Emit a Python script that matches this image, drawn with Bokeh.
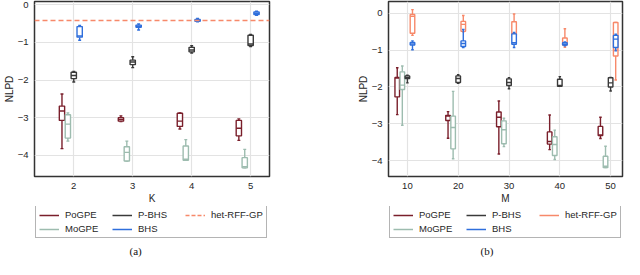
from bokeh.plotting import figure
from bokeh.layouts import row, column
from bokeh.models import (ColumnDataSource, Legend, LegendItem, FixedTicker, Span, Label, Range1d)
from bokeh.embed import file_html
from bokeh.resources import INLINE

# ---------------- data ----------------
METHODS = ["PoGPE", "MoGPE", "P-BHS", "BHS", "het-RFF-GP"]
COLORS = {"PoGPE": "#7a1f2b", "MoGPE": "#9dbcaf", "P-BHS": "#3a3a3a",
          "BHS": "#2f6fdc", "het-RFF-GP": "#f7896a"}
OFFSETS = {"PoGPE": -0.2, "MoGPE": -0.1, "P-BHS": 0.0, "BHS": 0.1, "het-RFF-GP": 0.1}

# panel (a): K values; each entry = (whisker_low, q1, median, q3, whisker_high)
K_VALUES = [2, 3, 4, 5]
K_POGPE = [(-3.82, -3.07, -2.82, -2.69, -2.37), (-3.10, -3.09, -3.05, -3.00, -2.95),
           (-3.30, -3.23, -3.09, -2.88, -2.87), (-3.60, -3.48, -3.28, -3.07, -3.03)]
K_MOGPE = [(-3.62, -3.54, -3.17, -2.92, -2.87), (-4.15, -4.15, -3.92, -3.77, -3.62),
           (-4.13, -4.13, -4.10, -3.75, -3.58), (-4.33, -4.33, -4.30, -4.06, -3.84)]
K_PBHS = [(-2.05, -1.96, -1.88, -1.79, -1.77), (-1.67, -1.59, -1.52, -1.47, -1.38),
          (-1.28, -1.25, -1.20, -1.13, -1.09), (-1.11, -1.08, -1.04, -0.81, -0.79)]
K_BHS = [(-0.94, -0.86, -0.83, -0.58, -0.55), (-0.67, -0.60, -0.57, -0.54, -0.51),
         (-0.45, -0.44, -0.42, -0.39, -0.36), (-0.28, -0.26, -0.23, -0.19, -0.17)]
K_HET_LEVEL = -0.42

# panel (b): M values
M_VALUES = [10, 20, 30, 40, 50]
M_POGPE = [(-2.75, -2.27, -1.76, -1.74, -1.48), (-3.39, -2.91, -2.79, -2.77, -2.67),
           (-3.82, -3.08, -2.82, -2.68, -2.38), (-3.70, -3.55, -3.48, -3.22, -2.76),
           (-3.40, -3.32, -3.30, -3.07, -2.82)]
M_MOGPE = [(-3.04, -2.07, -1.95, -1.59, -1.43), (-3.95, -3.68, -3.10, -2.79, -2.12),
           (-3.62, -3.54, -3.16, -2.92, -2.85), (-3.97, -3.86, -3.56, -3.35, -3.17),
           (-4.19, -4.19, -4.15, -3.88, -3.61)]
M_PBHS = [(-1.89, -1.77, -1.74, -1.70, -1.68), (-1.90, -1.88, -1.77, -1.70, -1.67),
          (-2.05, -1.96, -1.88, -1.78, -1.75), (-1.98, -1.98, -1.96, -1.79, -1.72),
          (-2.11, -2.00, -1.89, -1.75, -1.74)]
M_BHS = [(-0.99, -0.86, -0.83, -0.79, -0.75), (-0.93, -0.90, -0.82, -0.75, -0.44),
         (-0.93, -0.84, -0.80, -0.56, -0.52), (-0.88, -0.86, -0.84, -0.80, -0.78),
         (-1.02, -0.93, -0.70, -0.60, -0.57)]
M_HET = [(-0.60, -0.54, -0.08, -0.03, 0.10), (-0.50, -0.49, -0.30, -0.22, -0.06),
         (-0.63, -0.60, -0.55, -0.23, -0.02), (-0.92, -0.86, -0.80, -0.67, -0.42),
         (-1.81, -1.16, -1.00, -0.25, -0.25)]

Y_TICKS = [0, -1, -2, -3, -4]
Y_LABELS = ["0", "\u22121", "\u22122", "\u22123", "\u22124"]
CAPTIONS = ["(a)", "(b)"]

FONT = "Liberation Sans"
BOX_HALF = 0.045
CAP_HALF = 0.025
PLOT_H = 206
LEG_H = 53
FIG_W = 312


def make_fig(left, right, xr, yr, xticks, xlabel):
    p = figure(width=FIG_W, height=PLOT_H, output_backend="svg", toolbar_location=None,
               x_range=Range1d(*xr), y_range=Range1d(*yr),
               min_border_left=left, min_border_right=right, min_border_top=1,
               min_border_bottom=30)
    p.background_fill_color = "white"
    p.border_fill_color = "white"
    p.outline_line_color = "#333333"
    p.outline_line_width = 1.5
    p.xaxis.ticker = FixedTicker(ticks=xticks)
    p.yaxis.ticker = FixedTicker(ticks=Y_TICKS)
    p.yaxis.major_label_overrides = dict(zip(Y_TICKS, Y_LABELS))
    for ax in (p.xaxis, p.yaxis):
        ax.axis_line_color = None
        ax.major_tick_line_color = None
        ax.minor_tick_line_color = None
        ax.major_tick_out = 0
        ax.major_tick_in = 0
        ax.minor_tick_out = 0
        ax.minor_tick_in = 0
        ax.major_label_text_font = FONT
        ax.major_label_text_font_size = "9.5px"
        ax.major_label_text_color = "#262626"
        ax.axis_label_text_font = FONT
        ax.axis_label_text_font_size = "10px"
        ax.axis_label_text_font_style = "normal"
        ax.axis_label_text_color = "#262626"
    p.xaxis.major_label_standoff = 6
    p.xaxis.axis_label_standoff = 1
    p.yaxis.major_label_standoff = 6
    p.yaxis.axis_label_standoff = 0
    p.xaxis.axis_label = xlabel
    p.yaxis.axis_label = "NLPD"
    p.xgrid.ticker = FixedTicker(ticks=xticks)
    p.ygrid.ticker = FixedTicker(ticks=Y_TICKS)
    p.grid.grid_line_color = "#e3e3e3"
    p.grid.grid_line_width = 1.2
    return p


def draw_boxes(p, cats, stats, method, scale):
    c = COLORS[method]
    off = OFFSETS[method] * scale
    x = [k + off for k in cats]
    lo = [s[0] for s in stats]
    q1 = [s[1] for s in stats]
    md = [s[2] for s in stats]
    q3 = [s[3] for s in stats]
    hi = [s[4] for s in stats]
    src = ColumnDataSource(dict(
        x=x, lo=lo, q1=q1, md=md, q3=q3, hi=hi,
        bl=[v - BOX_HALF * scale for v in x], br=[v + BOX_HALF * scale for v in x],
        cl=[v - CAP_HALF * scale for v in x], cr=[v + CAP_HALF * scale for v in x]))
    lw = 1.4
    p.segment("x", "lo", "x", "q1", source=src, line_color=c, line_width=lw)
    p.segment("x", "q3", "x", "hi", source=src, line_color=c, line_width=lw)
    p.segment("cl", "lo", "cr", "lo", source=src, line_color=c, line_width=lw)
    p.segment("cl", "hi", "cr", "hi", source=src, line_color=c, line_width=lw)
    p.quad(left="bl", right="br", bottom="q1", top="q3", source=src,
           fill_color="white", line_color=c, line_width=lw)
    p.segment("bl", "md", "br", "md", source=src, line_color=c, line_width=lw)


def legend_fig(left, right, cap_x, caption, het_dashed):
    f = figure(width=FIG_W, height=LEG_H, output_backend="svg", toolbar_location=None,
               x_range=Range1d(left, FIG_W - right), y_range=Range1d(0, LEG_H),
               x_axis_type=None, y_axis_type=None,
               min_border_left=left, min_border_right=right, min_border_top=0,
               min_border_bottom=0)
    f.outline_line_color = None
    f.grid.visible = False
    f.background_fill_color = "white"
    f.border_fill_color = "white"
    items = []
    nan = float("nan")
    for m in METHODS:
        if m == "het-RFF-GP" and het_dashed:
            r = f.line(x=[nan, nan], y=[nan, nan], line_color=COLORS[m], line_width=1.5,
                       line_dash="4 2")
        else:
            r = f.line(x=[nan, nan], y=[nan, nan], line_color=COLORS[m], line_width=1.5)
        items.append(LegendItem(label=m, renderers=[r]))
    lg = Legend(items=items, ncols=3, location=(1, 21))
    lg.label_text_font = FONT
    lg.label_text_font_size = "9.5px"
    lg.label_text_color = "#262626"
    lg.glyph_width = 20
    lg.glyph_height = 10
    lg.label_standoff = 6
    lg.label_height = 10
    lg.label_width = 44
    lg.spacing = 3
    lg.padding = 3
    lg.margin = 0
    lg.border_line_color = "#b4b4b4"
    lg.border_line_width = 1
    lg.border_line_alpha = 1.0
    lg.background_fill_color = "white"
    f.add_layout(lg)
    f.add_layout(Label(x=cap_x, y=9, text=caption, text_align="center",
                       text_baseline="middle", text_font="Liberation Serif",
                       text_font_size="11px", text_color="#111111"))
    return f


# panel (a)
pa = make_fig(33, 43, (1.334, 5.32), (-4.56, 0.087), K_VALUES, "K")
draw_boxes(pa, K_VALUES, K_POGPE, "PoGPE", 1)
draw_boxes(pa, K_VALUES, K_MOGPE, "MoGPE", 1)
draw_boxes(pa, K_VALUES, K_PBHS, "P-BHS", 1)
draw_boxes(pa, K_VALUES, K_BHS, "BHS", 1)
pa.add_layout(Span(location=K_HET_LEVEL, dimension="width", line_color=COLORS["het-RFF-GP"],
                   line_width=1.5, line_dash="5 3"))
la = legend_fig(33, 43, 134.5, CAPTIONS[0], True)

# panel (b)
pb = make_fig(76, 2, (6.28, 52.34), (-4.43, 0.32), M_VALUES, "M")
draw_boxes(pb, M_VALUES, M_POGPE, "PoGPE", 10)
draw_boxes(pb, M_VALUES, M_MOGPE, "MoGPE", 10)
draw_boxes(pb, M_VALUES, M_PBHS, "P-BHS", 10)
draw_boxes(pb, M_VALUES, M_HET, "het-RFF-GP", 10)
draw_boxes(pb, M_VALUES, M_BHS, "BHS", 10)
lb = legend_fig(76, 2, 174.5, CAPTIONS[1], False)

layout = row(column(pa, la), column(pb, lb))
open("out.html", "w").write(file_html(layout, INLINE))
